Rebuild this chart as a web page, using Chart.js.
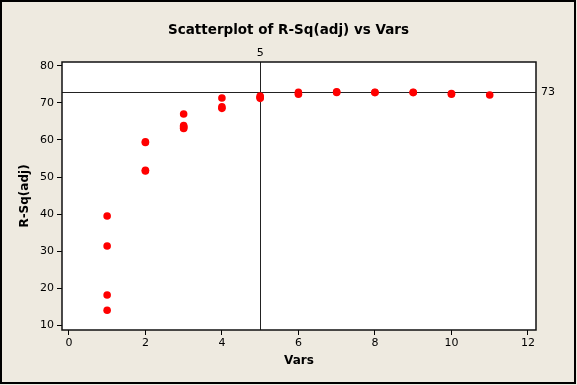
<!DOCTYPE html>
<html>
<head>
<meta charset="utf-8">
<script src="https://cdn.jsdelivr.net/npm/chart.js@4.4.0/dist/chart.umd.min.js"></script>
<style>
	body { margin: 0; background: #EEEAE0; }
	canvas { display: block; }
</style>
</head>
<body>
<canvas id="canvas" width="577" height="385"></canvas>
<script>
// number of predictors in each model
var vars = [1, 1, 1, 1,
	2, 2, 2, 2,
	3, 3, 3, 3, 3,
	4, 4, 4,
	5, 5, 5,
	6, 6,
	7, 7,
	8, 8,
	9, 9,
	10, 10,
	11];
// adjusted R-squared of each model
var rsqAdj = [39.5, 31.4, 18.2, 14.1,
	59.5, 59.3, 51.8, 51.6,
	67.0, 63.9, 63.6, 63.3, 63.1,
	71.3, 68.9, 68.5,
	71.8, 71.5, 71.2,
	72.8, 72.3,
	73.0, 72.8,
	72.85, 72.75,
	72.85, 72.75,
	72.5, 72.3,
	72.1];
var xTicks = [0, 2, 4, 6, 8, 10, 12];
var yTicks = [10, 20, 30, 40, 50, 60, 70, 80];
var refX = 5;
var refY = 73;
var chartTitle = 'Scatterplot of R-Sq(adj) vs Vars';

var font = 'DejaVu Sans';

var points = [];
for (var i in vars) {
	points.push({x: vars[i], y: rsqAdj[i]});
}

var frame = {
	id: 'frame',
	beforeDraw: function(chart) {
		var ctx = chart.ctx, a = chart.chartArea;
		ctx.save();
		ctx.fillStyle = '#EEEAE0';
		ctx.fillRect(0, 0, chart.width, chart.height);
		ctx.fillStyle = '#FFFFFF';
		ctx.fillRect(a.left, a.top, a.right - a.left, a.bottom - a.top);
		ctx.restore();
	},
	beforeDatasetsDraw: function(chart) {
		var ctx = chart.ctx, a = chart.chartArea;
		var px = Math.round(chart.scales.x.getPixelForValue(refX)) + 0.5;
		var py = Math.round(chart.scales.y.getPixelForValue(refY)) + 0.5;
		ctx.save();
		ctx.strokeStyle = '#222';
		ctx.lineWidth = 1;
		ctx.beginPath();
		ctx.moveTo(px, a.top);
		ctx.lineTo(px, a.bottom);
		ctx.moveTo(a.left, py);
		ctx.lineTo(a.right, py);
		ctx.stroke();
		ctx.restore();
	},
	afterDraw: function(chart) {
		var ctx = chart.ctx, a = chart.chartArea;
		ctx.save();
		ctx.strokeStyle = '#111';
		ctx.lineWidth = 1.5;
		ctx.strokeRect(a.left, a.top, a.right - a.left, a.bottom - a.top);
		// title, centred on the whole picture
		ctx.fillStyle = '#000';
		ctx.font = 'bold 13.5px ' + font;
		ctx.textAlign = 'center';
		ctx.textBaseline = 'middle';
		ctx.fillText(chartTitle, chart.width / 2, 30);
		// reference line labels
		ctx.font = '11px ' + font;
		ctx.textBaseline = 'bottom';
		ctx.fillText(String(refX), chart.scales.x.getPixelForValue(refX), a.top - 3);
		ctx.textAlign = 'left';
		ctx.textBaseline = 'middle';
		ctx.fillText(String(refY), a.right + 5, chart.scales.y.getPixelForValue(refY));
		ctx.strokeStyle = '#000';
		ctx.lineWidth = 2;
		ctx.strokeRect(1, 1, chart.width - 3, chart.height - 3);
		ctx.restore();
	}
};

var ctx = document.getElementById('canvas').getContext('2d');
var chart = new Chart(ctx, {
	type: 'scatter',
	data: {
		datasets: [{
			data: points,
			backgroundColor: '#FF0000',
			borderWidth: 0,
			pointRadius: 3.8
		}]
	},
	options: {
		responsive: false,
		animation: false,
		layout: {
			padding: {left: 0, right: 41, top: 62, bottom: 0}
		},
		plugins: {
			legend: { display: false },
			tooltip: { enabled: false },
			title: { display: false }
		},
		scales: {
			x: {
				type: 'linear',
				min: -0.18,
				max: 12.21,
				afterBuildTicks: function(s) { s.ticks = xTicks.map(function(v){ return {value: v}; }); },
				afterFit: function(s) { s.height = 55; },
				grid: { drawOnChartArea: false, drawTicks: true, tickLength: 5, color: '#000' },
				border: { display: false },
				ticks: { color: '#000', font: { family: font, size: 11 }, padding: 2, maxRotation: 0 },
				title: {
					display: true,
					text: 'Vars',
					color: '#000',
					font: { family: font, size: 12, weight: 'bold' },
					padding: { top: 0, bottom: 17 }
				}
			},
			y: {
				type: 'linear',
				min: 8.76,
				max: 81.0,
				afterBuildTicks: function(s) { s.ticks = yTicks.map(function(v){ return {value: v}; }); },
				afterFit: function(s) { s.width = 62; },
				grid: { drawOnChartArea: false, drawTicks: true, tickLength: 5, color: '#000' },
				border: { display: false },
				ticks: { color: '#000', font: { family: font, size: 11 }, padding: 3 },
				title: {
					display: true,
					text: 'R-Sq(adj)',
					color: '#000',
					font: { family: font, size: 12, weight: 'bold' },
					padding: { top: 18, bottom: 0 }
				}
			}
		}
	},
	plugins: [frame]
});
</script>
</body>
</html>
